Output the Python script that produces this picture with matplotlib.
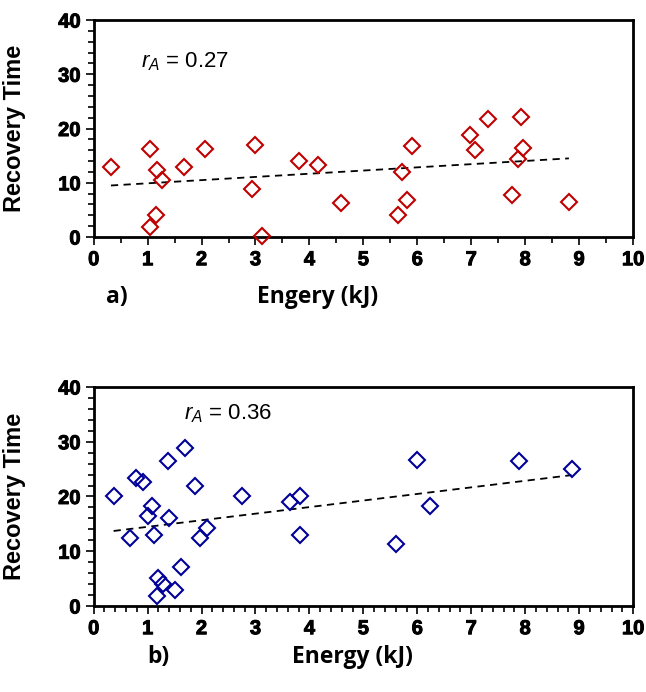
import matplotlib.pyplot as plt
import matplotlib.patheffects as pe
from matplotlib.ticker import MultipleLocator

# panel a) energy vs recovery time
energy_a = [0.32, 1.04, 1.04, 1.16, 1.18, 1.26, 1.67, 2.06, 2.93, 3.00, 3.12, 3.81, 4.16,
            4.59, 5.65, 5.72, 5.80, 5.90, 6.97, 7.07, 7.31, 7.76, 7.86, 7.92, 7.96, 8.81]
recovery_a = [13.0, 16.2, 1.9, 4.0, 12.4, 10.5, 13.0, 16.3, 8.9, 17.0, 0.1, 14.0, 13.3,
              6.3, 4.0, 12.0, 6.8, 16.7, 18.8, 16.1, 21.7, 7.7, 14.3, 22.1, 16.5, 6.5]
trend_a_x = [0.32, 8.81]
trend_a_y = [9.5, 14.5]

# panel b)
energy_b = [0.37, 0.68, 0.79, 0.91, 1.01, 1.09, 1.12, 1.19, 1.28, 1.17, 1.38, 1.39, 1.51, 1.61,
            1.69, 1.88, 1.98, 2.10, 2.75, 3.64, 3.83, 3.83, 5.60, 6.00, 6.23, 7.89, 8.86]
recovery_b = [20.0, 12.4, 23.4, 22.6, 16.5, 18.3, 12.9, 5.2, 4.0, 1.9, 26.4, 16.0, 2.9, 7.2,
              28.9, 22.0, 12.4, 14.3, 20.0, 18.9, 20.0, 12.9, 11.3, 26.6, 18.3, 26.4, 25.0]
trend_b_x = [0.37, 8.86]
trend_b_y = [13.7, 23.9]

plt.rcParams["font.family"] = "Liberation Sans"
plt.rcParams["mathtext.fontset"] = "custom"
plt.rcParams["mathtext.it"] = "Liberation Sans:italic"
plt.rcParams["mathtext.rm"] = "Liberation Sans"

YLABEL_FONT = {"family": "Liberation Sans", "weight": "bold", "size": 17}
XLABEL_FONT = {"family": "Open Sans", "weight": "bold", "size": 16.5}
HEAVY = [pe.withStroke(linewidth=0.7, foreground="black")]


def draw_panel(ax, x, y, tx, ty, color, minor_x, r_text, r_pos, letter, letter_x,
               xlabel, label_x, label_y):
    ax.plot(x, y, linestyle="none", marker="D", markersize=8.5, markerfacecolor="none",
            markeredgecolor=color, markeredgewidth=1.5, clip_on=False, zorder=3)
    ax.plot(tx, ty, color="black", linestyle=(0, (4, 3)), linewidth=1.3)
    ax.set_xlim(0, 10)
    ax.set_ylim(0, 40)
    ax.xaxis.set_major_locator(MultipleLocator(1))
    ax.xaxis.set_minor_locator(MultipleLocator(minor_x))
    ax.yaxis.set_major_locator(MultipleLocator(10))
    ax.yaxis.set_minor_locator(MultipleLocator(2))
    ax.tick_params(which="both", direction="out", width=1.2)
    ax.tick_params(which="major", length=6)
    ax.tick_params(which="minor", length=4)
    for s in ax.spines.values():
        s.set_linewidth(2)
    ax.set_ylabel("Recovery Time", fontdict=YLABEL_FONT)
    ax.yaxis.set_label_coords(-0.126, 0.5)
    ax.text(r_pos[0], r_pos[1], r"$r_A$ = " + r_text, fontsize=16,
            ha="left", va="center")
    ax.text(letter_x, label_y, letter, transform=ax.transAxes, fontdict=XLABEL_FONT,
            ha="left", va="center")
    ax.text(label_x, label_y, xlabel, transform=ax.transAxes, fontdict=XLABEL_FONT,
            ha="center", va="center")


fig = plt.figure(figsize=(6.46, 6.92), dpi=100)
ax_a = fig.add_axes([0.145, 0.6575, 0.835, 0.3135])
ax_b = fig.add_axes([0.145, 0.1243, 0.835, 0.3165])

draw_panel(ax_a, energy_a, recovery_a, trend_a_x, trend_a_y, "#C00000", 0.5,
           "0.27", (0.88, 32.3), "a)", 0.022, "Engery (kJ)", 0.415, -0.275)
draw_panel(ax_b, energy_b, recovery_b, trend_b_x, trend_b_y, "#000099", 0.2,
           "0.36", (1.68, 35.1), "b)", 0.1, "Energy (kJ)", 0.48, -0.235)

# tick labels exist only after a draw; make them heavy then
fig.canvas.draw()
for ax in (ax_a, ax_b):
    for lab in ax.get_xticklabels() + ax.get_yticklabels():
        lab.set_fontproperties({"family": "Liberation Sans", "weight": "bold", "size": 14.5})
        lab.set_path_effects(HEAVY)

fig.savefig("out.png", dpi=100)
